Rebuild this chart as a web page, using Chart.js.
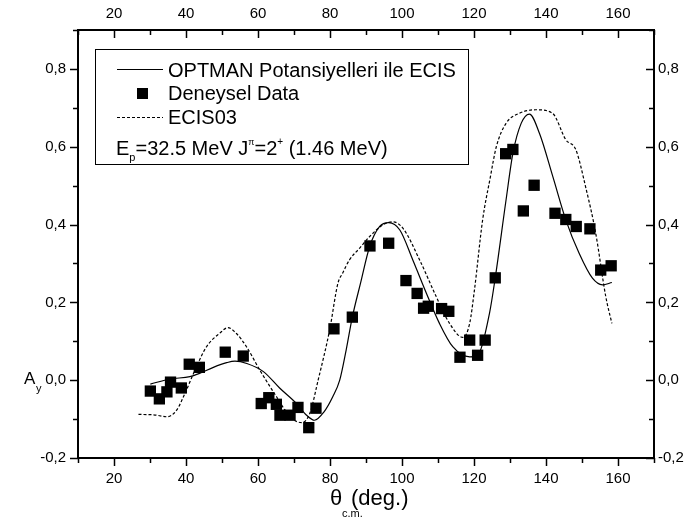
<!DOCTYPE html>
<html>
<head>
<meta charset="utf-8">
<script src="https://cdn.jsdelivr.net/npm/chart.js@4/dist/chart.umd.min.js"></script>
<style>
  html, body { margin: 0; padding: 0; background: #fff; }
</style>
</head>
<body>
<canvas id="chart" width="693" height="527"></canvas>
<script>
// deneysel veriler (kareler)
const expX = [30.1, 32.6, 34.7, 35.7, 38.7, 40.9, 43.7, 50.9, 55.9, 60.9, 63.0, 65.1, 66.1, 68.9, 71.1, 74.1, 76.1,
  81.1, 86.2, 91.1, 96.3, 101.1, 104.2, 106.0, 107.3, 111.0, 113.0, 116.1, 118.8, 121.0, 123.1,
  125.9, 128.8, 130.8, 133.7, 136.7, 142.5, 145.5, 148.4, 152.2, 155.2, 158.1];
const expY = [-0.028, -0.048, -0.030, -0.005, -0.020, 0.041, 0.033, 0.072, 0.062, -0.060, -0.045, -0.062, -0.090, -0.090, -0.070, -0.122, -0.072,
  0.132, 0.162, 0.345, 0.352, 0.256, 0.223, 0.185, 0.190, 0.184, 0.177, 0.059, 0.103, 0.064, 0.103,
  0.263, 0.582, 0.593, 0.435, 0.501, 0.429, 0.413, 0.395, 0.389, 0.283, 0.294];

// OPTMAN egrisi (duz cizgi)
const optX = [30.1, 35.6, 41.1, 43.9, 47.6, 51.3, 53.6, 56.9, 61.5, 66.0, 70.7, 73.5, 75.7, 78.3, 80.8, 82.7, 84.5, 86.2, 88.5,
  91.0, 93.8, 96.3, 99.4, 103.0, 106.8, 110.4, 114.1, 118.8, 121.1, 124.3, 125.9, 128.9, 130.8, 133.1, 135.4,
  138.2, 141.9, 145.5, 149.2, 152.9, 155.7, 158.3];
const optY = [-0.010, 0.003, 0.009, 0.018, 0.033, 0.045, 0.049, 0.043, 0.022, -0.020, -0.060, -0.090, -0.103, -0.082, -0.042, 0.000, 0.078, 0.162, 0.250,
  0.343, 0.395, 0.405, 0.386, 0.309, 0.223, 0.146, 0.086, 0.060, 0.065, 0.172, 0.263, 0.463, 0.583, 0.660, 0.684,
  0.634, 0.523, 0.412, 0.326, 0.262, 0.245, 0.251];

// ECIS03 egrisi (kesikli)
const ecisX = [26.8, 31.0, 34.7, 37.4, 39.7, 42.5, 45.7, 49.4, 51.6, 54.0, 56.8, 60.5, 65.1, 68.9, 72.1, 74.4, 76.7, 79.9,
  82.2, 83.5, 85.4, 88.2, 91.0, 94.7, 97.5, 100.3, 104.9, 109.5, 113.2, 116.9, 118.8, 120.1, 122.4, 124.5, 126.2,
  128.9, 132.6, 137.2, 141.8, 145.5, 148.3, 151.0, 153.8, 156.6, 158.3];
const ecisY = [-0.088, -0.089, -0.094, -0.077, -0.034, 0.026, 0.086, 0.121, 0.135, 0.120, 0.086, 0.026, -0.042, -0.094, -0.109, -0.085, 0.000, 0.129,
  0.249, 0.275, 0.309, 0.339, 0.369, 0.399, 0.407, 0.390, 0.309, 0.215, 0.146, 0.110, 0.146, 0.230, 0.412, 0.520, 0.600,
  0.660, 0.686, 0.695, 0.686, 0.618, 0.592, 0.497, 0.378, 0.215, 0.146];

const xTicks = [20, 40, 60, 80, 100, 120, 140, 160];
const yTicks = [-0.2, 0, 0.2, 0.4, 0.6, 0.8];
const xMinor = [10, 20, 30, 40, 50, 60, 70, 80, 90, 100, 110, 120, 130, 140, 150, 160, 170];
const yMinor = [-0.2, -0.1, 0, 0.1, 0.2, 0.3, 0.4, 0.5, 0.6, 0.7, 0.8, 0.9];

const FONT = "'Liberation Sans', Arial, sans-serif";

const pts = (xs, ys) => xs.map((v, i) => ({ x: v, y: ys[i] }));
const fmtY = v => v.toFixed(1).replace('.', ',');

// ticks on all four sides: outward on bottom/left, inward on top/right
const frameTicks = {
  id: 'frameTicks',
  afterDraw(chart) {
    const { ctx, chartArea: a, scales: { x, y } } = chart;
    ctx.save();
    ctx.strokeStyle = '#000';
    ctx.lineWidth = 1.5;
    const seg = (x1, y1, x2, y2) => { ctx.beginPath(); ctx.moveTo(x1, y1); ctx.lineTo(x2, y2); ctx.stroke(); };
    xMinor.forEach(v => {
      const px = Math.round(x.getPixelForValue(v)) + 0.5;
      const len = v % 20 === 0 ? 8 : 5;
      seg(px, a.bottom, px, a.bottom + len);
      seg(px, a.top, px, a.top + len);
    });
    yMinor.forEach(v => {
      const py = Math.round(y.getPixelForValue(v)) + 0.5;
      const len = Math.round(v * 10) % 2 === 0 ? 8 : 5;
      seg(a.left, py, a.left - len, py);
      seg(a.right, py, a.right - len, py);
    });

    // axis titles with subscripts
    ctx.fillStyle = '#000';
    ctx.textBaseline = 'alphabetic';
    ctx.textAlign = 'left';
    ctx.font = '17px ' + FONT;
    ctx.fillText('A', 24, 384);
    ctx.font = '11px ' + FONT;
    ctx.fillText('y', 36, 392);

    ctx.font = '22px ' + FONT;
    ctx.fillText('\u03b8', 330, 505);
    ctx.font = '11px ' + FONT;
    ctx.fillText('c.m.', 342, 517);
    ctx.font = '22px ' + FONT;
    ctx.fillText('(deg.)', 351, 505);
    ctx.restore();
  }
};

// legend box like in the original figure
const boxLegend = {
  id: 'boxLegend',
  afterDraw(chart) {
    const { ctx } = chart;
    const ds = chart.data.datasets;
    ctx.save();
    ctx.fillStyle = '#fff';
    ctx.fillRect(95, 49, 373, 115);
    ctx.strokeStyle = '#000';
    ctx.lineWidth = 1;
    ctx.strokeRect(95.5, 49.5, 373, 115);

    ctx.fillStyle = '#000';
    ctx.font = '20px ' + FONT;
    ctx.textBaseline = 'middle';
    ctx.textAlign = 'left';

    // solid
    ctx.lineWidth = 1.2;
    ctx.setLineDash([]);
    ctx.beginPath(); ctx.moveTo(117, 69.5); ctx.lineTo(163, 69.5); ctx.stroke();
    ctx.fillText(ds[0].label, 168, 71);
    // squares
    ctx.fillRect(137, 88, 11, 11);
    ctx.fillText(ds[2].label, 168, 94);
    // dashed
    ctx.setLineDash([3, 2]);
    ctx.beginPath(); ctx.moveTo(117, 117.5); ctx.lineTo(163, 117.5); ctx.stroke();
    ctx.setLineDash([]);
    ctx.fillText(ds[1].label, 168, 118);

    // E_p=32.5 MeV J^pi=2^+ (1.46 MeV)
    ctx.textBaseline = 'alphabetic';
    let cx = 116;
    const run = (t, size, dy) => {
      ctx.font = size + 'px ' + FONT;
      ctx.fillText(t, cx, 155 + dy);
      cx += ctx.measureText(t).width;
    };
    run('E', 20, 0);
    run('p', 11, 6);
    run('=32.5 MeV J', 20, 0);
    run('\u03c0', 9, -10);
    run('=2', 20, 0);
    run('+', 10, -10);
    run(' (1.46 MeV)', 20, 0);
    ctx.restore();
  }
};

const tickFont = { family: FONT, size: 15 };

new Chart(document.getElementById('chart').getContext('2d'), {
  type: 'scatter',
  data: {
    datasets: [
      {
        label: 'OPTMAN Potansiyelleri ile ECIS',
        data: pts(optX, optY),
        showLine: true,
        borderColor: '#000',
        borderWidth: 1.2,
        pointRadius: 0,
        cubicInterpolationMode: 'monotone',
        order: 2
      },
      {
        label: 'ECIS03',
        data: pts(ecisX, ecisY),
        showLine: true,
        borderColor: '#000',
        borderWidth: 1.2,
        borderDash: [3, 2],
        pointRadius: 0,
        cubicInterpolationMode: 'monotone',
        order: 3
      },
      {
        label: 'Deneysel Data',
        data: pts(expX, expY),
        pointStyle: 'rect',
        pointRadius: 8,
        backgroundColor: '#000',
        borderColor: '#000',
        borderWidth: 0,
        order: 1
      }
    ]
  },
  options: {
    responsive: false,
    animation: false,
    layout: { padding: 0 },
    plugins: { legend: { display: false }, tooltip: { enabled: false } },
    scales: {
      x: {
        type: 'linear', position: 'bottom', min: 10, max: 170,
        afterBuildTicks: s => { s.ticks = xTicks.map(v => ({ value: v })); },
        afterFit: s => { s.height = 69; },
        grid: { display: false, drawTicks: false },
        border: { display: true, color: '#000', width: 2 },
        ticks: { color: '#000', font: tickFont, padding: 12, maxRotation: 0 }
      },
      x2: {
        type: 'linear', position: 'top', min: 10, max: 170,
        afterBuildTicks: s => { s.ticks = xTicks.map(v => ({ value: v })); },
        afterFit: s => { s.height = 30; },
        grid: { display: false, drawTicks: false },
        border: { display: true, color: '#000', width: 2 },
        ticks: { color: '#000', font: tickFont, padding: 7, maxRotation: 0 }
      },
      y: {
        type: 'linear', position: 'left', min: -0.2, max: 0.9,
        afterBuildTicks: s => { s.ticks = yTicks.map(v => ({ value: v })); },
        afterFit: s => { s.width = 78; },
        grid: { display: false, drawTicks: false },
        border: { display: true, color: '#000', width: 2 },
        ticks: { color: '#000', font: tickFont, padding: 12, callback: v => fmtY(v) }
      },
      y2: {
        type: 'linear', position: 'right', min: -0.2, max: 0.9,
        afterBuildTicks: s => { s.ticks = yTicks.map(v => ({ value: v })); },
        afterFit: s => { s.width = 39; },
        grid: { display: false, drawTicks: false },
        border: { display: true, color: '#000', width: 2 },
        ticks: { color: '#000', font: tickFont, padding: 4, callback: v => fmtY(v) }
      }
    }
  },
  plugins: [frameTicks, boxLegend]
});
</script>
</body>
</html>
